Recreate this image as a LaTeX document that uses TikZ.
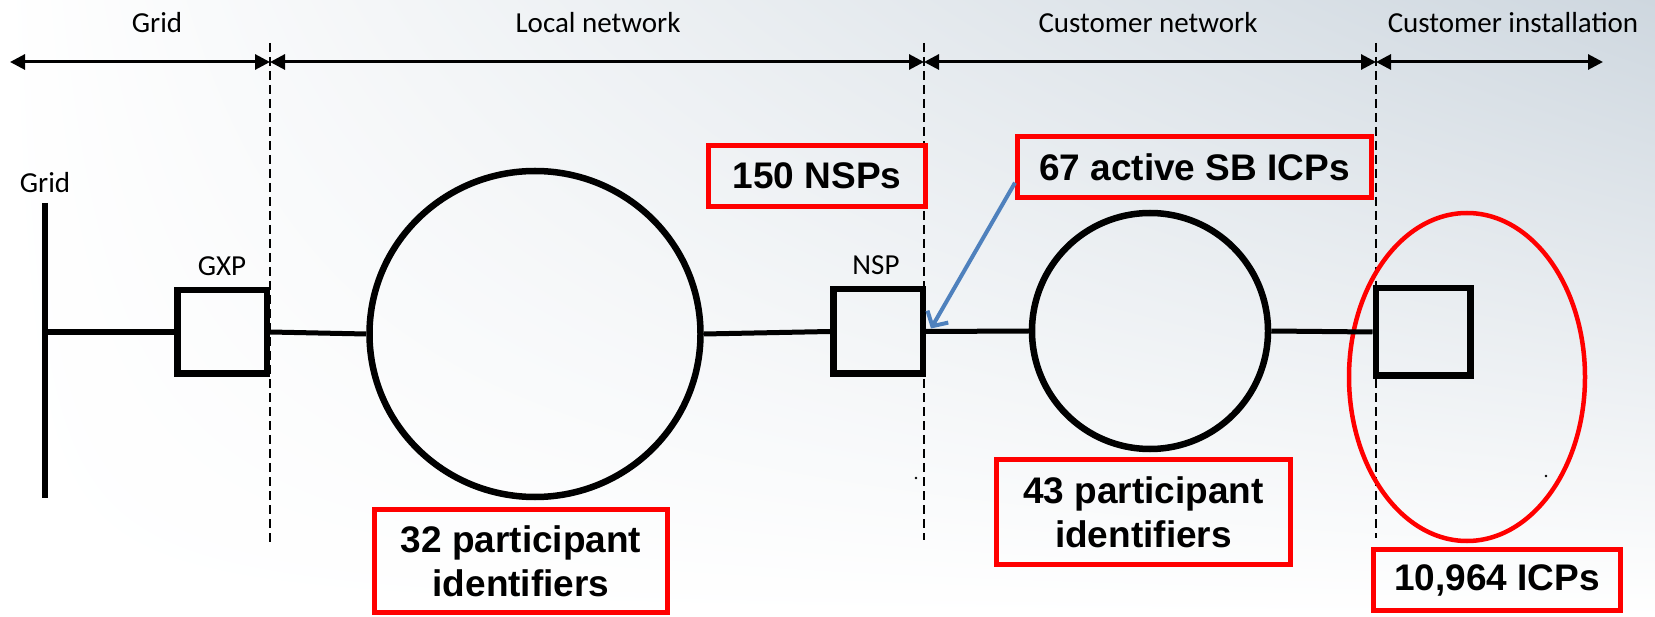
\documentclass[tikz,border=0pt]{standalone}
\usepackage{fontspec}
\newfontfamily\calfont{Carlito}
\newfontfamily\arialfont{Liberation Sans}
\usetikzlibrary{arrows.meta,shapes.geometric,shadings}
\definecolor{boxred}{RGB}{255,0,0}
\definecolor{arrblue}{RGB}{79,129,189}
\definecolor{bgtr}{RGB}{206,215,223}
\begin{document}
\begin{tikzpicture}[x=1pt,y=-1pt,
  lbl/.style={font=\calfont\fontsize{29}{34}\selectfont, inner sep=0pt, anchor=base},
  redbox/.style={draw=boxred, line width=5pt, font=\arialfont\bfseries\fontsize{37}{44}\selectfont, align=center, inner sep=0pt},
  elbox/.style={draw=black, line width=6.5pt, inner sep=0pt},
  wire/.style={line width=5pt},
  divider/.style={line width=2pt, dash pattern=on 9pt off 5pt},
  spanarrow/.style={line width=3pt, {Triangle[length=15pt,width=15pt]}-{Triangle[length=15pt,width=15pt]}},
  pointer/.style={draw=arrblue, line width=4pt, -{Straight Barb[length=11pt,width=24pt]}},
  speck/.style={fill=black}
]
\useasboundingbox (0,0) rectangle (1655,617);
\shade[upper left=white, upper right=bgtr, lower left=white, lower right=white] (0,0) rectangle (1655,617);

% section dividers and header spans
\coordinate (a0) at (10,62);
\coordinate (a1) at (270,62);
\coordinate (a2) at (924,62);
\coordinate (a3) at (1376,62);
\coordinate (a4) at (1603,62);
\coordinate (d1t) at (270,43);  \coordinate (d1b) at (270,542);
\coordinate (d2t) at (924,43);  \coordinate (d2b) at (924,540);
\coordinate (d3t) at (1376,43); \coordinate (d3b) at (1376,538);
\draw[divider] (d1t) -- (d1b);
\draw[divider] (d2t) -- (d2b);
\draw[divider] (d3t) -- (d3b);
\draw[spanarrow] (a0) -- (a1);
\draw[spanarrow] (a1) -- (a2);
\draw[spanarrow] (a2) -- (a3);
\draw[spanarrow] (a3) -- (a4);
\node[lbl] (hgrid) at (157,33) {Grid};
\node[lbl] (hlocal) at (598,33) {Local network};
\node[lbl] (hcustnet) at (1148,33) {Customer network};
\node[lbl] (hcustinst) at (1513,33) {Customer installation};

% grid bar
\coordinate (bartop) at (44.6,203);
\coordinate (barbot) at (44.6,498);
\coordinate (tap) at (44.6,332);
\draw[line width=6pt] (bartop) -- (barbot);
\node[lbl] (gridlbl) at (45,193) {Grid};

% elements
\node[elbox, minimum width=89.5pt, minimum height=83.5pt] (gxp) at (222,332) {};
\node[lbl] (gxplbl) at (222,276) {GXP};
\node[ellipse, draw, line width=6.5pt, minimum width=331pt, minimum height=326pt, inner sep=0pt] (lan) at (535,334) {};
\node[elbox, minimum width=89.5pt, minimum height=84.5pt] (nsp) at (878,331.5) {};
\node[lbl] (nsplbl) at (876,275) {NSP};
\node[circle, draw, line width=6.5pt, minimum size=236pt, inner sep=0pt] (cust) at (1150,331) {};
\node[elbox, minimum width=94.5pt, minimum height=87.5pt] (icp) at (1423,332) {};
\node[ellipse, draw=boxred, line width=4.5pt, minimum width=236pt, minimum height=328pt, inner sep=0pt] (icpring) at (1467,377) {};

\draw[line width=6pt] (tap) -- (gxp.west);
\draw[wire] (gxp.east) -- (lan.west);
\draw[wire] (lan.east) -- (nsp.west);
\draw[wire] (nsp.east) -- (cust.west);
\draw[wire] (cust.east) -- (icp.west);

% specks
\fill[speck] (916,478) circle (1.4pt);
\fill[speck] (1546,476) circle (1.4pt);

% red annotation boxes
\node[redbox, minimum width=217pt, minimum height=61pt] (nsps) at (817,176) {150 NSPs};
\node[redbox, minimum width=354pt, minimum height=61pt] (act) at (1194.5,167) {67 active SB ICPs};
\node[redbox, minimum width=293pt, minimum height=103pt] (p32) at (521,561) {32 participant\\identifiers};
\node[redbox, minimum width=294pt, minimum height=105pt] (p43) at (1143.5,512) {43 participant\\identifiers};
\node[redbox, minimum width=247pt, minimum height=61pt] (icps) at (1497,580) {10,964 ICPs};

\draw[pointer] (act.185) -- ([xshift=5pt,yshift=3pt]nsp.east);
\end{tikzpicture}
\end{document}
